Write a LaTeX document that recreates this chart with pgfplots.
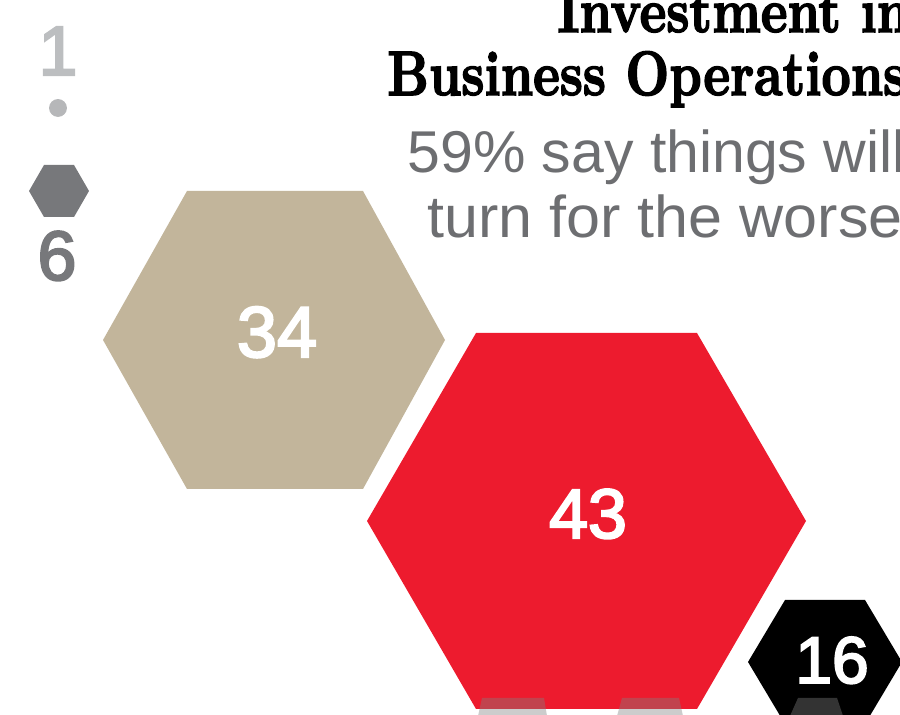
\documentclass[border=0pt]{standalone}
\usepackage{pgfplots}
\pgfplotsset{compat=1.18}
\usepackage{fontspec}
\newfontfamily\sansf{Liberation Sans}
\newfontfamily\numf{Liberation Sans}[FakeBold=3]
\newfontfamily\titlef{lmroman10-bold.otf}[FakeBold=2.5]
\definecolor{htan}{HTML}{C2B59B}
\definecolor{hred}{HTML}{ED1B2E}
\definecolor{dgrey}{HTML}{77787B}
\definecolor{lgrey}{HTML}{BCBEC0}
\definecolor{dotgrey}{HTML}{B6B7B9}
\definecolor{tgrey}{HTML}{6D6E71}
\begin{document}
\begin{tikzpicture}
\path[use as bounding box] (0,0) rectangle (450pt,357.5pt);
\clip (0,0) rectangle (450pt,357.5pt);
\begin{axis}[at={(0,0)}, anchor=south west, scale only axis,
  width=450pt, height=357.5pt, xmin=0, xmax=900, ymin=0, ymax=715,
  y dir=reverse, axis lines=none, ticks=none, clip=false]
% hexagons (value 34, 43, 16, 6)
\addplot[fill=htan, draw=none] coordinates {(103,340) (187,191) (363,191) (445,340) (363,489) (187,489)} -- cycle;
\addplot[fill=hred, draw=none] coordinates {(367,521) (476,333) (697,333) (806,521) (697,709) (476,709)} -- cycle;
\addplot[fill=black, draw=none] coordinates {(748,662) (785,600) (865,600) (902,662) (865,724) (785,724)} -- cycle;
\addplot[fill=dgrey, draw=none] coordinates {(29,191) (44,165) (74,165) (89,191) (74,217) (44,217)} -- cycle;
% value 1 marker
\addplot[only marks, mark=*, mark size=4.25pt, color=dotgrey] coordinates {(58,108)};
% partial shapes of next row
\addplot[fill=black!50, fill opacity=0.4, draw=none] coordinates {(482,698) (544,698) (547,716) (478,716)} -- cycle;
\addplot[fill=black!50, fill opacity=0.4, draw=none] coordinates {(622,698) (679,698) (683,716) (617,716)} -- cycle;
\addplot[fill=black!50, fill opacity=0.4, draw=none] coordinates {(798,698) (837,698) (843,716) (790,716)} -- cycle;
% numbers
\node[anchor=base, inner sep=0pt, text=white] at (axis cs:277,357) {\numf\fontsize{36}{36}\selectfont 34};
\node[anchor=base, inner sep=0pt, text=white] at (axis cs:588,538) {\numf\fontsize{35}{35}\selectfont 43};
\node[anchor=base, inner sep=0pt, text=white] at (axis cs:832,683) {\numf\fontsize{33}{33}\selectfont 16};
\node[anchor=base, inner sep=0pt, text=lgrey] at (axis cs:58,75) {\numf\fontsize{35}{35}\selectfont 1};
\node[anchor=base, inner sep=0pt, text=dgrey] at (axis cs:57,280) {\numf\fontsize{35}{35}\selectfont 6};
% title
\node[anchor=base west, inner sep=0pt] at (axis cs:557,32) {\scalebox{0.81}[1]{\titlef\fontsize{31.35}{31.35}\selectfont Investment in}};
\node[anchor=base west, inner sep=0pt] at (axis cs:387,95) {\scalebox{0.81}[1]{\titlef\fontsize{31.35}{31.35}\selectfont Business Operations}};
\node[anchor=base west, inner sep=0pt, text=tgrey] at (axis cs:407,173) {\sansf\fontsize{29.5}{29.5}\selectfont 59\% say things will};
\node[anchor=base west, inner sep=0pt, text=tgrey] at (axis cs:427,238) {\scalebox{1.035}[1]{\sansf\fontsize{29.5}{29.5}\selectfont turn for the worse}};
\end{axis}
\end{tikzpicture}
\end{document}
